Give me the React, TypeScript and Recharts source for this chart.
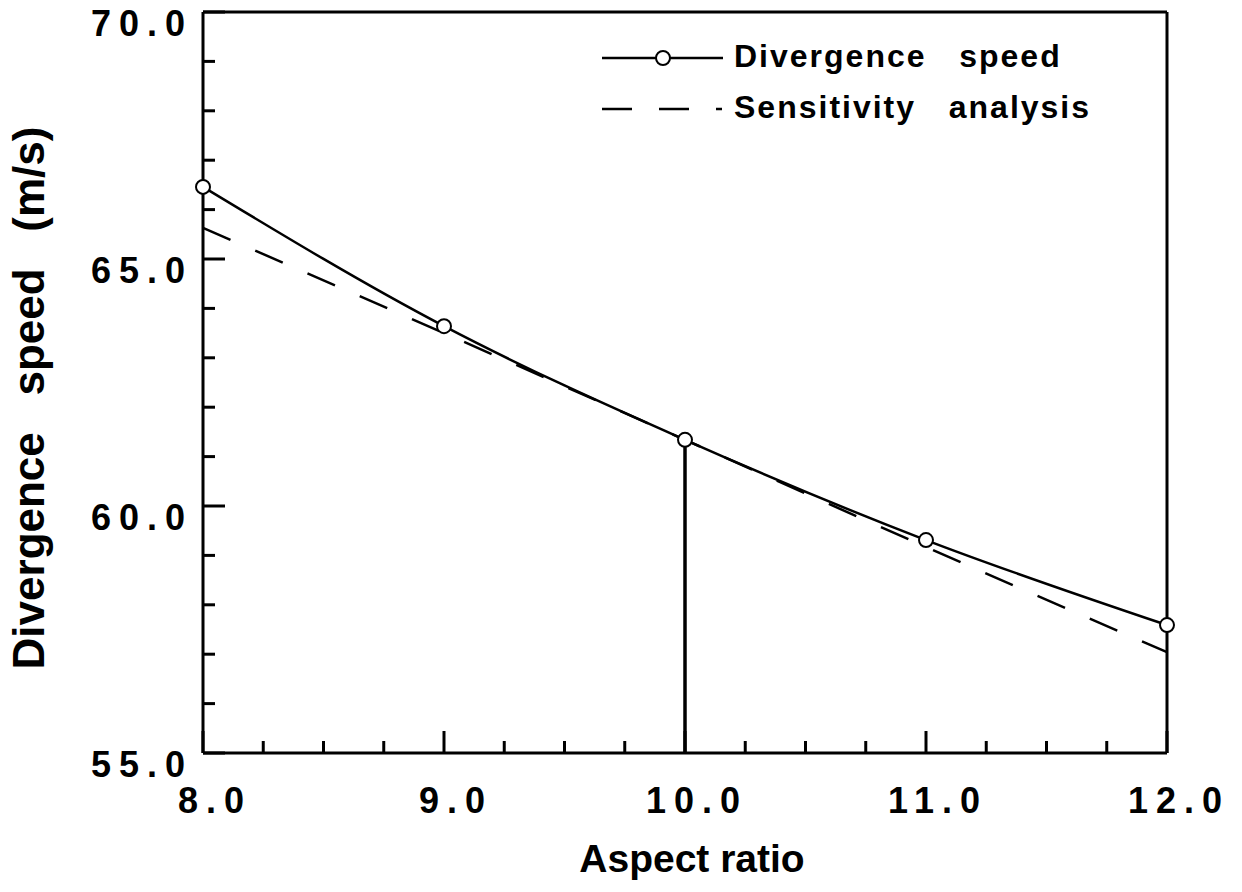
import { LineChart, Line, XAxis, YAxis, ReferenceLine, Legend, Label } from "recharts";

const aspectRatio = [8, 9, 10, 11, 12];
const divergenceSpeed = [66.46, 63.64, 61.34, 59.31, 57.59];
const sensitivityAnalysis = [65.63, 63.5, 61.34, 59.17, 57.04];

const xTicks = [8, 8.25, 8.5, 8.75, 9, 9.25, 9.5, 9.75, 10, 10.25, 10.5, 10.75, 11, 11.25, 11.5, 11.75, 12];
const yTicks = [55, 56, 57, 58, 59, 60, 61, 62, 63, 64, 65, 66, 67, 68, 69, 70];

const data = aspectRatio.map((x, i) => ({
  x,
  speed: divergenceSpeed[i],
  sens: sensitivityAnalysis[i],
}));

const FONT = '"Liberation Sans", Arial, Helvetica, sans-serif';

function XTick(props: any) {
  const { x, y, payload } = props;
  const v = payload.value as number;
  const major = Number.isInteger(v);
  return (
    <g>
      <line x1={x} x2={x} y1={y} y2={y - (major ? 22 : 12)} stroke="#000" strokeWidth={3} />
      {major && (
        <text x={x + 12} y={y + 60} textAnchor="middle" fontFamily={FONT} fontWeight="bold" fontSize={36} letterSpacing={8} fill="#000">
          {v.toFixed(1)}
        </text>
      )}
    </g>
  );
}

function YTick(props: any) {
  const { x, y, payload } = props;
  const v = payload.value as number;
  const major = v % 5 === 0;
  return (
    <g>
      <line x1={x} x2={x + (major ? 22 : 12)} y1={y} y2={y} stroke="#000" strokeWidth={3} />
      {major && (
        <text x={x - 10} y={y + 24} textAnchor="end" fontFamily={FONT} fontWeight="bold" fontSize={36} letterSpacing={8} fill="#000">
          {v.toFixed(1)}
        </text>
      )}
    </g>
  );
}

function ChartLegend() {
  return (
    <svg width={1242} height={140} style={{ display: "block", pointerEvents: "none" }}>
      <line x1={602} x2={723} y1={58} y2={58} stroke="#000" strokeWidth={2.5} />
      <circle cx={663} cy={58} r={7} fill="#fff" stroke="#000" strokeWidth={2} />
      <text x={734} y={67} fontFamily={FONT} fontWeight="bold" fontSize={32} letterSpacing={2} style={{ whiteSpace: "pre" }}>
        {"Divergence   speed"}
      </text>
      <line x1={602} x2={722} y1={109} y2={109} stroke="#000" strokeWidth={2.5} strokeDasharray="30 27" />
      <text x={734} y={118} fontFamily={FONT} fontWeight="bold" fontSize={32} letterSpacing={2} style={{ whiteSpace: "pre" }}>
        {"Sensitivity   analysis"}
      </text>
    </svg>
  );
}

export default function App() {
  return (
    <div style={{ position: "absolute", left: 0, top: 0, width: 1242, height: 892, background: "#fff" }}>
      <LineChart width={1242} height={892} data={data} margin={{ top: 12, right: 75, bottom: 0, left: 0 }}>
        <XAxis
          dataKey="x"
          type="number"
          domain={[8, 12]}
          ticks={xTicks}
          interval={0}
          height={139}
          tickSize={0}
          tickMargin={0}
          tickLine={false}
          tick={<XTick />}
          axisLine={{ stroke: "#000", strokeWidth: 3 }}
        >
          <Label
            content={() => (
              <text x={692} y={872} textAnchor="middle" fontFamily={FONT} fontWeight="bold" fontSize={39} fill="#000">
                Aspect ratio
              </text>
            )}
          />
        </XAxis>
        <YAxis
          type="number"
          domain={[55, 70]}
          ticks={yTicks}
          interval={0}
          width={203}
          tickSize={0}
          tickMargin={0}
          tickLine={false}
          tick={<YTick />}
          axisLine={{ stroke: "#000", strokeWidth: 3 }}
        >
          <Label
            content={() => (
              <text
                transform="translate(44, 398) rotate(-90)"
                x={0}
                y={0}
                textAnchor="middle"
                fontFamily={FONT}
                fontWeight="bold"
                fontSize={44}
                fill="#000"
                style={{ whiteSpace: "pre" }}
              >
                {"Divergence   speed   (m/s)"}
              </text>
            )}
          />
        </YAxis>
        <ReferenceLine y={70} stroke="#000" strokeWidth={3} />
        <ReferenceLine x={12} stroke="#000" strokeWidth={3} />
        <ReferenceLine
          segment={[
            { x: aspectRatio[2], y: 55 },
            { x: aspectRatio[2], y: divergenceSpeed[2] },
          ]}
          stroke="#000"
          strokeWidth={3.5}
        />
        <Line
          type="monotone"
          dataKey="sens"
          stroke="#000"
          strokeWidth={2.5}
          strokeDasharray="30 27"
          dot={false}
          activeDot={false}
          isAnimationActive={false}
        />
        <Line
          type="monotone"
          dataKey="speed"
          stroke="#000"
          strokeWidth={2.5}
          dot={{ r: 7, stroke: "#000", strokeWidth: 2, fill: "#fff" }}
          activeDot={false}
          isAnimationActive={false}
        />
        <Legend
          layout="vertical"
          align="center"
          verticalAlign="middle"
          content={() => <ChartLegend />}
          wrapperStyle={{ position: "absolute", left: 0, top: 0, width: 1242, height: 140 }}
        />
      </LineChart>
    </div>
  );
}
